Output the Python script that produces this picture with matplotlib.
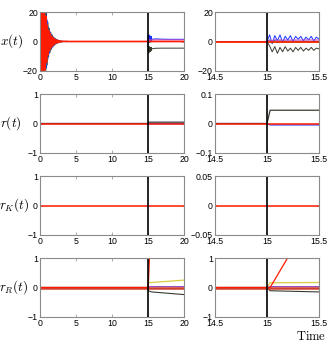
import matplotlib
matplotlib.use('Agg')
import matplotlib.pyplot as plt
import numpy as np

plt.rcParams['font.family'] = 'Liberation Sans'
plt.rcParams['mathtext.fontset'] = 'cm'

# colours of the states
c_red = '#ff1a00'
c_blue = '#1a33ff'
c_green = '#1f8a3a'
c_dark = '#3a3a30'
c_yel = '#d8cc40'
c_mag = '#c040c0'
c_pur = '#9a4fc0'
c_dred = '#d0402c'

# ---- x(t): start-up transient, t = 0 .. 3 step 0.1
t_tr = [0.0, 0.1, 0.2, 0.3, 0.4, 0.5, 0.6, 0.7, 0.8, 0.9, 1.0, 1.1, 1.2, 1.3, 1.4, 1.5,
        1.6, 1.7, 1.8, 1.9, 2.0, 2.1, 2.2, 2.3, 2.4, 2.5, 2.6, 2.7, 2.8, 2.9, 3.0, 3.5, 4.0]
x_tr_dark = [-25, 26, -24, 25, -23, 24, -24, 23, -22, 20, -16, 13, -10.5, 8.8, -7.4, 6.2, -5.2,
             4.4, -3.7, 3.1, -2.6, 2.2, -1.8, 1.5, -1.2, 1.0, -0.8, 0.65, -0.5, 0.4, -0.3, 0.12, 0]
x_tr_blue = [24, -25, 23, -24, 22, -23, 22, -22, 20, -18, 14.5, -12, 9.6, -8, 6.7, -5.6, 4.7,
             -4.0, 3.3, -2.8, 2.3, -1.9, 1.6, -1.3, 1.1, -0.9, 0.7, -0.55, 0.45, -0.35, 0.25,
             -0.1, 0]
x_tr_green = [-23, 24, -22, 23, -21, 21, -21, 20, -19, 16, -13, 10.5, -8.5, 7.1, -6, 5, -4.2,
              3.5, -2.9, 2.4, -2.0, 1.7, -1.4, 1.1, -0.9, 0.75, -0.6, 0.5, -0.4, 0.3, -0.2,
              0.05, 0]
x_tr_yel = [26, -26, 25, -24, 23, -22, 21, -20, 17, -13, 10, -8, 6.5, -5.3, 4.3, -3.5, 2.9,
            -2.4, 1.9, -1.6, 1.3, -1.0, 0.8, -0.6, 0.5, -0.4, 0.3, -0.2, 0.15, -0.1, 0.05, 0, 0]
x_tr_red = [22, -23, 22, -21, 21, -20, 20, -19, 17, -14, 11, -9, 7.5, -6.2, 5.2, -4.3, 3.6, -3,
            2.5, -2.1, 1.7, -1.4, 1.2, -1, 0.8, -0.65, 0.5, -0.4, 0.3, -0.2, 0.15, 0.05, 0]

# ---- x(t): after the fault at t = 15
t_post = [15.0, 15.025, 15.05, 15.075, 15.1, 15.125, 15.15, 15.175, 15.2, 15.225, 15.25,
          15.275, 15.3, 15.325, 15.35, 15.375, 15.4, 15.425, 15.45, 15.475, 15.5,
          16, 17, 18, 19, 20]
x_post_blue = [0, 4.5, -1.5, 4, 0.5, 4.5, -0.5, 3.5, 1, 4, 0, 3.5, 1.5, 3.5, 0.5, 3, 1, 3.5, 0.5,
               3, 1.5, 1.8, 1.6, 1.5, 1.5, 1.5]
x_post_dark = [0, -3, -7, -3.5, -8, -4, -7, -3.5, -6.5, -4.5, -7, -4, -6, -4, -6.5, -4.5, -6,
               -4, -6, -4.5, -5, -4.6, -4.5, -4.5, -4.5, -4.5]
x_post_green = [0, 1, -1, 0.8, -0.8, 0.6, -0.6, 0.5, -0.5, 0.4, -0.4, 0.3, -0.3, 0.3, -0.2,
                0.2, -0.2, 0.1, -0.1, 0.1, 0, 0, 0, 0, 0, 0]
x_post_mag = [0, 1, 0.6, 1.2, 0.7, 1.1, 0.8, 1.1, 0.8, 1, 0.9, 1, 0.9, 1, 0.9, 1, 1, 1, 1, 1, 1,
              1.1, 1.1, 1.1, 1.1, 1.1]

# ---- r(t)
t_r = [0, 15, 15.03, 20]
r_dark = [0, 0, 0.045, 0.045]
r_blue = [0, 0, -0.005, -0.005]
r_red = [0, 0, 0, 0]

# ---- r_K(t)
t_rk = [0, 20]
rk_red = [0, 0]

# ---- r_R(t)
t_rr = [0, 15, 15.03, 15.5, 20]
rr_red = [0, 0, 0, 2.8, 28]
rr_yel = [0, 0, 0.16, 0.17, 0.25]
rr_dark = [0, 0, -0.11, -0.15, -0.24]
rr_pur = [0, 0, 0.03, 0.03, 0.03]
rr_dred = [0, 0, 0, 0, 0]

t_fault = 15

W, H = 332, 349
fig = plt.figure(figsize=(W / 100, H / 100), dpi=100)

rows_top = [12, 94, 176, 258]
row_h = 59
left_x, left_w = 40, 144
right_x, right_w = 215, 104

ylabels = [r'$x(t)$', r'$r(t)$', r'$r_K(t)$', r'$r_R(t)$']
label_x = [12, 11, 14, 14]
left_ylim = [(-20, 20), (-1, 1), (-1, 1), (-1, 1)]
right_ylim = [(-20, 20), (-0.1, 0.1), (-0.05, 0.05), (-1, 1)]
right_yticks = [[-20, 0, 20], [-0.1, 0, 0.1], [-0.05, 0, 0.05], [-1, 0, 1]]
right_yticklabels = [['\u221220', '0', '20'], ['\u22120.1', '0', '0.1'],
                     ['\u22120.05', '0', '0.05'], ['\u22121', '0', '1']]
left_yticklabels = [['\u221220', '0', '20'], ['\u22121', '0', '1'],
                    ['\u22121', '0', '1'], ['\u22121', '0', '1']]


def style(ax):
    for s in ax.spines.values():
        s.set_color('#8a8a8a')
        s.set_linewidth(0.8)
    ax.tick_params(direction='in', length=2, width=0.5, labelsize=6.3, pad=1.5,
                   top=True, right=True, colors='#8a8a8a', labelcolor='black')


def draw(ax, i):
    if i == 0:
        t_all = t_tr + t_post
        ax.plot(t_all, x_tr_dark + x_post_dark, color=c_dark, lw=0.7)
        ax.plot(t_all, x_tr_blue + x_post_blue, color=c_blue, lw=0.7)
        ax.plot(t_all, x_tr_yel + [0] * len(t_post), color=c_yel, lw=0.7)
        ax.plot(t_all, x_tr_green + x_post_green, color=c_green, lw=0.7)
        ax.plot(t_all, [0] * len(t_tr) + x_post_mag, color=c_mag, lw=0.7)
        ax.plot(t_all, x_tr_red + [0] * len(t_post), color=c_red, lw=1.2)
    elif i == 1:
        ax.plot(t_r, r_blue, color=c_blue, lw=0.8)
        ax.plot(t_r, r_dark, color=c_dark, lw=0.9)
        ax.plot(t_r, r_red, color=c_red, lw=1.1)
    elif i == 2:
        ax.plot(t_rk, rk_red, color=c_red, lw=1.1)
    else:
        ax.plot(t_rr, rr_dark, color=c_dark, lw=0.8)
        ax.plot(t_rr, rr_yel, color=c_yel, lw=0.9)
        ax.plot(t_rr, rr_pur, color=c_pur, lw=0.9)
        ax.plot(t_rr, rr_dred, color=c_dred, lw=1.8)
        ax.plot(t_rr, rr_red, color=c_red, lw=0.9)
    ax.axvline(t_fault, color='black', lw=1.2)


for i in range(4):
    top = rows_top[i]
    b = 1 - (top + row_h) / H
    h = row_h / H
    axl = fig.add_axes([left_x / W, b, left_w / W, h])
    draw(axl, i)
    axl.set_xlim(0, 20)
    axl.set_ylim(*left_ylim[i])
    axl.set_xticks([0, 5, 10, 15, 20])
    axl.set_yticks(left_ylim[i][:1] + (0,) + left_ylim[i][1:])
    axl.set_yticklabels(left_yticklabels[i])
    style(axl)

    axr = fig.add_axes([right_x / W, b, right_w / W, h])
    draw(axr, i)
    axr.set_xlim(14.5, 15.5)
    axr.set_ylim(*right_ylim[i])
    axr.set_xticks([14.5, 15, 15.5])
    axr.set_xticklabels(['14.5', '15', '15.5'])
    axr.set_yticks(right_yticks[i])
    axr.set_yticklabels(right_yticklabels[i])
    style(axr)

    fig.text(label_x[i] / W, 1 - (top + row_h / 2) / H, ylabels[i],
             ha='center', va='center', fontsize=9.5)

fig.text(311 / W, 1 - 337 / H, r'$\mathrm{Time}$', ha='center', va='center', fontsize=9)

fig.savefig('out.png', dpi=100)
